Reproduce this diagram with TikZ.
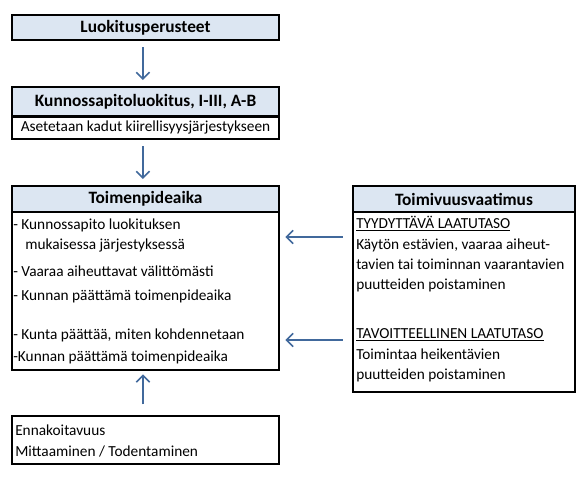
\documentclass[tikz,border=0pt]{standalone}
\usepackage{fontspec}
\setmainfont{Carlito}
\usetikzlibrary{arrows.meta}
\definecolor{hdrfill}{HTML}{DCE6F2}
\definecolor{arrowblue}{HTML}{41699C}
\tikzset{
  box/.style={draw=black, line width=1.5pt, inner sep=0pt, minimum width=200.25pt},
  hdr/.style={box, fill=hdrfill, font=\fontsize{13}{15}\selectfont\bfseries},
  bodybox/.style={box, fill=white},
  rbox/.style={minimum width=166.5pt},
  txt/.style={anchor=west, inner sep=0pt, font=\fontsize{11.5}{13}\selectfont, text height=8pt, text depth=2.5pt},
  arr/.style={draw=arrowblue, line width=1.5pt, -{Straight Barb[length=5pt,width=10pt,line width=1.2pt]}}
}
\begin{document}
\begin{tikzpicture}[x=0.75pt,y=-0.75pt]
\useasboundingbox[fill=white] (0,0) rectangle (582,476);
% box 1
\node[hdr, minimum height=18.75pt] (b1) at (145.5,27.5) {Luokitusperusteet};
% box 2
\node[hdr, minimum height=21.75pt] (b2h) at (145.5,101.5) {Kunnossapitoluokitus, I-III, A-B};
\node[bodybox, minimum height=17.25pt, font=\fontsize{11.5}{13}\selectfont] (b2b) at (145.5,127.5) {Asetetaan kadut kiirellisyysjärjestykseen};
\draw[line width=1.5pt] (b2h.south west) -- (b2h.south east);
% box 3
\node[bodybox, minimum height=118.5pt] (b3b) at (145.5,291) {};
\node[hdr, minimum height=19.5pt] (b3h) at (145.5,199) {Toimenpideaika};
\node[txt] (t1) at (13,226) {- Kunnossapito luokituksen};
\node[txt] (t2) at (25,246) {mukaisessa järjestyksessä};
\node[txt] (t3) at (13,273) {- Vaaraa aiheuttavat välittömästi};
\node[txt] (t4) at (13,297) {- Kunnan päättämä toimenpideaika};
\node[txt] (t5) at (13,336) {- Kunta päättää, miten kohdennetaan};
\node[txt] (t6) at (13,358) {-Kunnan päättämä toimenpideaika};
% box 4
\node[bodybox, minimum height=36pt] (b4) at (145.5,440) {};
\node[txt] (t7) at (15,432) {Ennakoitavuus};
\node[txt] (t8) at (15,453) {Mittaaminen / Todentaminen};
% right box
\node[bodybox, rbox, minimum height=135pt] (rb) at (464,302) {};
\node[hdr, rbox, minimum height=19.5pt] (rh) at (464,199) {Toimivuusvaatimus};
\node[txt] (r1) at (356,225) {\underline{TYYDYTTÄVÄ LAATUTASO}};
\node[txt] (r2) at (356,246) {Käytön estävien, vaaraa aiheut-};
\node[txt] (r3) at (356,266) {tavien tai toiminnan vaarantavien};
\node[txt] (r4) at (356,286) {puutteiden poistaminen};
\node[txt] (r5) at (356,335) {\underline{TAVOITTEELLINEN LAATUTASO}};
\node[txt] (r6) at (356,356) {Toimintaa heikentävien};
\node[txt] (r7) at (356,376) {puutteiden poistaminen};
% arrows
\draw[arr, shorten <=4.5pt, shorten >=4.5pt] ([xshift=-1.9pt]b1.south) -- ([xshift=-1.9pt]b2h.north);
\draw[arr, shorten <=4.5pt, shorten >=4.5pt] ([xshift=-1.9pt]b2b.south) -- ([xshift=-1.9pt]b3h.north);
\draw[arr, shorten <=8pt, shorten >=2.5pt] ([xshift=-1.9pt]b4.north) -- ([xshift=-1.9pt]b3b.south);
\coordinate (h1) at (0,237);
\coordinate (h2) at (0,340);
\draw[arr, shorten <=7pt, shorten >=4pt] (rb.west |- h1) -- (b3b.east |- h1);
\draw[arr, shorten <=7pt, shorten >=4pt] (rb.west |- h2) -- (b3b.east |- h2);
\end{tikzpicture}
\end{document}
